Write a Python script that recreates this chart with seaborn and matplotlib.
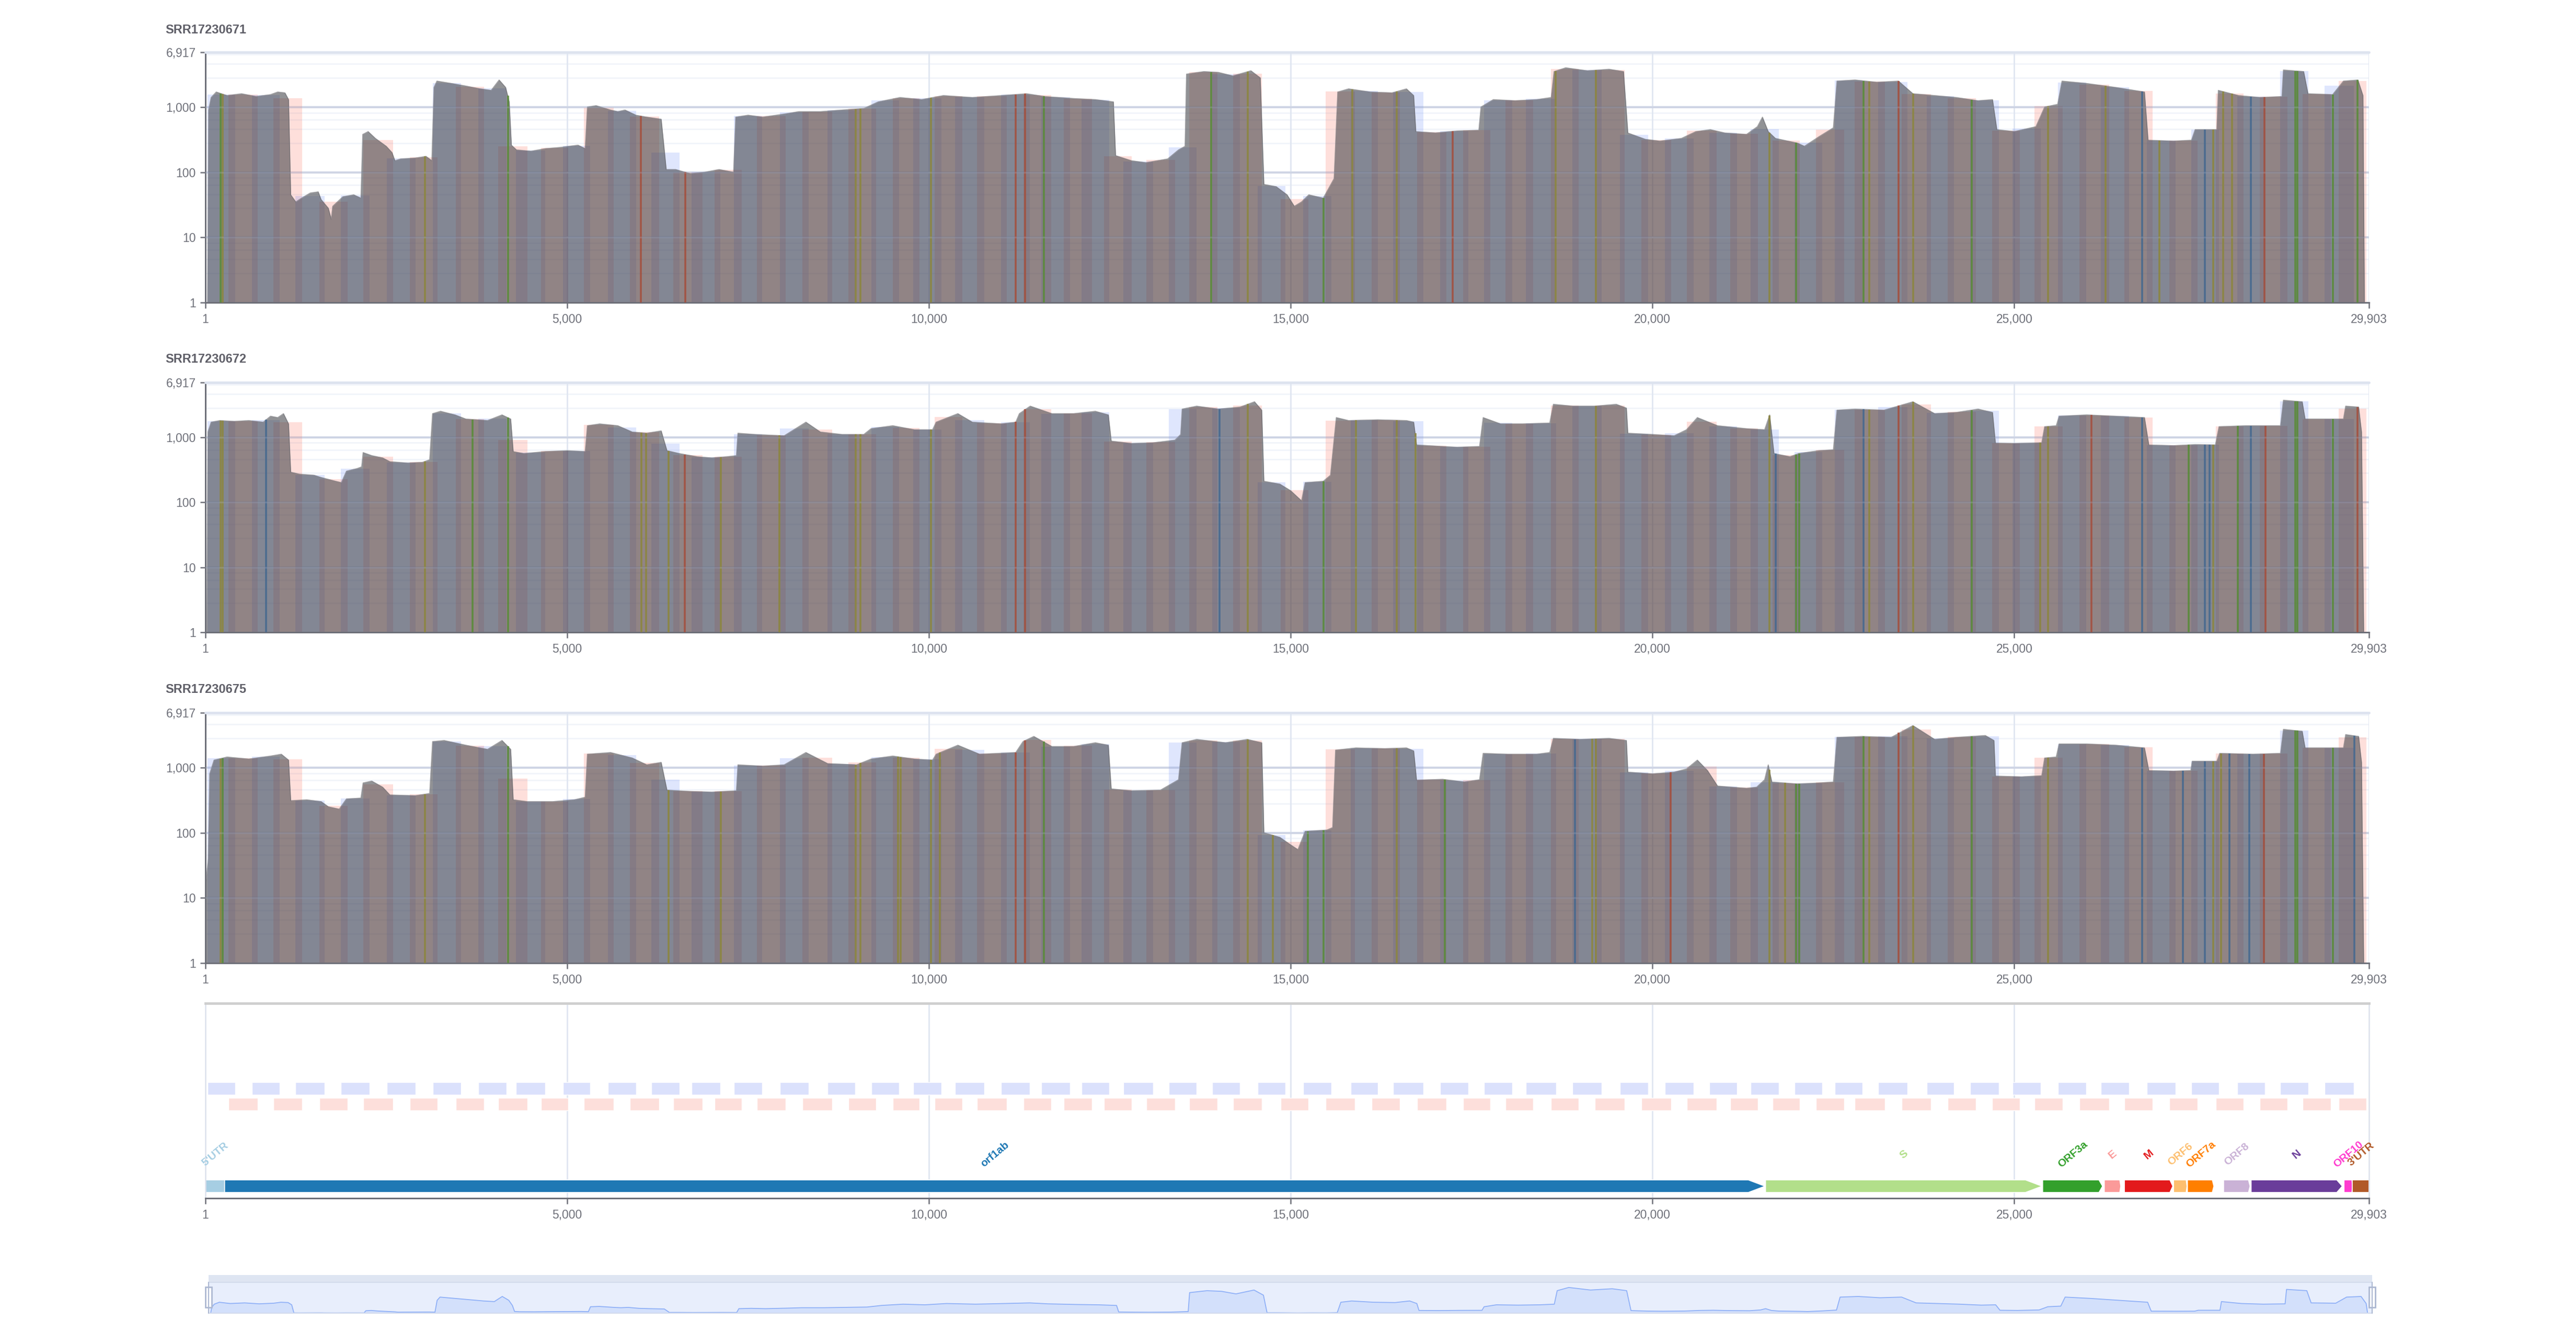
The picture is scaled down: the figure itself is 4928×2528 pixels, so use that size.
import numpy as np
import matplotlib
matplotlib.use('Agg')
import matplotlib.pyplot as plt
from matplotlib.patches import Rectangle, Polygon
from matplotlib.ticker import FixedLocator, NullLocator, FuncFormatter
import seaborn as sns

# genome / samples
genome_len = 29903
samples = ['SRR17230671', 'SRR17230672', 'SRR17230675']

# coverage breakpoints (position, depth)
cov_pos_1 = [1, 30, 45, 80, 150, 300, 500, 700, 900, 1000, 1100, 1150, 1180, 1250, 1330, 1450, 1560, 1600, 1700, 1740,
             1760, 1900, 2050, 2150, 2175, 2250, 2350, 2500, 2580, 2620, 2700, 2900, 3050, 3130, 3160, 3200, 3400, 3600,
             3800, 3950, 4060, 4150, 4200, 4230, 4300, 4500, 4700, 4900, 5150, 5250, 5280, 5400, 5600, 5700, 5800, 5950,
             6100, 6300, 6370, 6500, 6700, 6900, 7100, 7300, 7330, 7500, 7700, 8000, 8200, 8500, 8800, 9100, 9300, 9600,
             9900, 10200, 10600, 11000, 11350, 11600, 12000, 12300, 12550, 12580, 12800, 13000, 13300, 13450, 13540,
             13560, 13800, 14000, 14200, 14450, 14580, 14630, 14800, 14950, 15050, 15150, 15250, 15450, 15600, 15650,
             15800, 16100, 16400, 16600, 16700, 16730, 17000, 17300, 17600, 17630, 17800, 18100, 18400, 18600, 18640,
             18800, 19100, 19400, 19600, 19660, 19900, 20100, 20400, 20600, 20800, 21000, 21300, 21450, 21520, 21600,
             21700, 22000, 22100, 22300, 22500, 22550, 22800, 23100, 23400, 23600, 23900, 24200, 24500, 24700, 24760,
             25000, 25300, 25420, 25600, 25660, 26000, 26400, 26800, 26850, 27200, 27450, 27500, 27800, 27820, 28100,
             28400, 28700, 28720, 29000, 29060, 29400, 29550, 29750, 29820, 29840, 29903]
cov_depth_1 = [1, 1, 900, 1400, 1700, 1500, 1600, 1450, 1550, 1700, 1650, 1300, 45, 35, 40, 48, 50, 38, 28, 19,
               30, 42, 45, 40, 380, 420, 330, 250, 200, 150, 160, 165, 175, 150, 2000, 2500, 2300, 2100,
               1900, 1800, 2600, 2000, 1200, 260, 220, 210, 230, 240, 260, 230, 1000, 1050, 900, 850, 900, 750,
               700, 650, 110, 110, 95, 100, 110, 100, 700, 750, 700, 780, 850, 850, 900, 950, 1200, 1400,
               1300, 1500, 1400, 1500, 1600, 1450, 1350, 1300, 1200, 180, 150, 140, 160, 220, 250,
               3200, 3500, 3400, 3000, 3600, 2800, 65, 60, 45, 30, 35, 45, 40, 80, 1700,
               1900, 1700, 1650, 1900, 1500, 420, 400, 430, 440, 1000, 1300, 1250, 1300, 1400, 3500,
               4000, 3600, 3800, 3500, 400, 320, 300, 330, 420, 450, 400, 380, 500, 700, 420,
               330, 280, 250, 350, 480, 2500, 2600, 2400, 2500, 1600, 1500, 1400, 1250, 1300, 450,
               420, 500, 1000, 1100, 2500, 2300, 2000, 1700, 310, 300, 310, 450, 450, 1800, 1500,
               1400, 1450, 3700, 3500, 1600, 1550, 2500, 2600, 1500, 1, 1]

cov_pos_2 = [1, 20, 35, 80, 200, 400, 600, 800, 900, 1000, 1080, 1150, 1180, 1300, 1500, 1600, 1800, 1880, 1950, 2100,
             2160, 2180, 2300, 2450, 2550, 2800, 3000, 3100, 3140, 3250, 3450, 3600, 3900, 4100, 4220, 4255, 4400, 4700,
             5000, 5250, 5280, 5450, 5700, 5900, 6100, 6300, 6380, 6550, 6800, 7000, 7200, 7340, 7360, 7600, 8000, 8300,
             8500, 8800, 9100, 9200, 9500, 9800, 10050, 10100, 10400, 10600, 11000, 11200, 11250, 11400, 11700, 12000,
             12300, 12480, 12520, 12800, 13100, 13400, 13480, 13500, 13700, 14000, 14300, 14500, 14600, 14630, 14850,
             15000, 15150, 15200, 15450, 15550, 15630, 15800, 16200, 16600, 16700, 16740, 17000, 17300, 17610, 17660,
             17900, 18200, 18580, 18630, 18900, 19200, 19500, 19640, 19660, 20000, 20300, 20470, 20620, 20900, 21300,
             21550, 21620, 21680, 21900, 22020, 22300, 22500, 22550, 22800, 23200, 23600, 23900, 24200, 24500, 24700,
             24740, 25000, 25380, 25420, 25580, 25620, 26000, 26400, 26800, 26860, 27200, 27500, 27780, 27830, 28200,
             28680, 28720, 28980, 29020, 29550, 29580, 29760, 29800, 29830, 29903]
cov_depth_2 = [1, 1, 1200, 1700, 1800, 1750, 1800, 1700, 2100, 2000, 2300, 1600, 290, 270, 260, 240, 210, 200, 300, 330,
               350, 580, 520, 480, 420, 400, 410, 450, 2300, 2500, 2200, 1900, 1800, 2200, 1900, 600, 560, 600,
               620, 600, 1500, 1600, 1500, 1200, 1150, 1250, 620, 560, 500, 480, 500, 520, 1150, 1100, 1050, 1700,
               1200, 1100, 1100, 1350, 1500, 1300, 1300, 1700, 2300, 1700, 1600, 1700, 2300, 3000, 2300, 2300,
               2500, 2200, 870, 800, 820, 900, 1100, 2700, 3000, 2700, 2900, 3500, 2600, 210, 190,
               150, 105, 200, 210, 260, 2000, 1800, 1850, 1800, 1700, 760, 730, 700, 720, 2000,
               1600, 1600, 1650, 3200, 3000, 3000, 3200, 2800, 1150, 1100, 1050, 1300, 2000, 1500, 1350,
               1300, 2200, 560, 500, 560, 620, 640, 2600, 2700, 2600, 3500, 2300, 2400, 2700, 2400,
               810, 800, 820, 1450, 1500, 2100, 2200, 2100, 2000, 760, 740, 770, 760, 1450, 1500,
               1500, 3700, 3500, 1900, 1900, 3000, 2900, 1200, 1, 1]

cov_pos_3 = [1, 10, 40, 60, 120, 300, 600, 900, 1050, 1150, 1180, 1400, 1600, 1700, 1850, 1950, 2150, 2180, 2300, 2450,
             2550, 2900, 3100, 3140, 3300, 3600, 3900, 4100, 4220, 4255, 4450, 4800, 5100, 5250, 5280, 5600, 5900, 6100,
             6300, 6380, 6700, 7000, 7340, 7360, 7700, 8000, 8300, 8600, 9000, 9200, 9500, 9800, 10050, 10100, 10400,
             10700, 11200, 11300, 11450, 11700, 12000, 12300, 12480, 12520, 12800, 13200, 13450, 13500, 13700, 14100,
             14400, 14600, 14630, 14850, 15000, 15100, 15200, 15500, 15580, 15620, 15900, 16300, 16600, 16700, 16740,
             17100, 17400, 17610, 17660, 18000, 18400, 18580, 18630, 19000, 19400, 19640, 19660, 20000, 20300, 20470,
             20620, 20760, 20900, 21300, 21440, 21550, 21600, 21650, 22000, 22300, 22500, 22550, 22900, 23300, 23600,
             23900, 24200, 24600, 24720, 24740, 25100, 25380, 25420, 25580, 25620, 26000, 26400, 26800, 26860, 27200,
             27440, 27460, 27800, 27840, 28300, 28680, 28720, 28980, 29020, 29550, 29580, 29760, 29800, 29830, 29903]
cov_depth_3 = [1, 18, 40, 800, 1300, 1450, 1350, 1500, 1600, 1300, 310, 320, 300, 250, 230, 330, 340, 580, 620, 500,
               380, 370, 400, 2500, 2600, 2200, 1900, 2600, 1900, 320, 300, 300, 320, 350, 1600, 1700, 1400, 1100,
               1200, 450, 430, 420, 440, 1100, 1050, 1100, 1700, 1150, 1100, 1350, 1500, 1350, 1300, 1600, 2200,
               1600, 1700, 2500, 3000, 2100, 2100, 2400, 2200, 470, 440, 450, 650, 2400, 2700, 2400,
               2700, 2400, 100, 85, 65, 55, 105, 110, 120, 1850, 2000, 1950, 2000, 1800, 640,
               660, 600, 650, 1650, 1600, 1600, 1700, 2800, 2700, 2800, 2600, 850, 800, 850, 950,
               1300, 900, 520, 480, 500, 650, 1100, 600, 560, 580, 600, 2900, 3000, 2900, 4400,
               2700, 2900, 3100, 2600, 740, 720, 750, 1400, 1450, 2300, 2300, 2200, 2000, 900, 880,
               900, 1250, 1250, 1650, 1600, 1650, 3850, 3600, 2000, 2000, 3200, 3000, 1200, 1, 1]

# ARTIC V3 amplicons (odd = pool 1, even = pool 2)
amp_start = [30, 320, 642, 943, 1242, 1573, 1875, 2181, 2505, 2826, 3144, 3460, 3771, 4044, 4294, 4636, 4939, 5230,
             5563, 5867, 6167, 6466, 6718, 7035, 7305, 7626, 7943, 8249, 8595, 8888, 9204, 9502, 9784, 10077, 10362,
             10666, 10999, 11306, 11555, 11863, 12110, 12417, 12690, 13005, 13319, 13599, 13918, 14207, 14545, 14865,
             15171, 15481, 15827, 16118, 16416, 16748, 17065, 17381, 17674, 17966, 18253, 18596, 18896, 19204, 19548,
             19844, 20172, 20472, 20786, 21075, 21357, 21658, 21961, 22262, 22516, 22797, 23122, 23443, 23789, 24078,
             24391, 24696, 24978, 25279, 25601, 25902, 26197, 26520, 26835, 27141, 27446, 27784, 28081, 28394, 28677,
             28985, 29288, 29486]
amp_end = [410, 726, 1028, 1337, 1651, 1964, 2269, 2592, 2904, 3210, 3531, 3853, 4164, 4450, 4696, 5017, 5321, 5644,
           5957, 6272, 6550, 6873, 7117, 7415, 7694, 8019, 8341, 8661, 8983, 9271, 9585, 9867, 10171, 10459, 10763,
           11074, 11394, 11693, 11949, 12256, 12490, 12802, 13096, 13400, 13699, 13984, 14299, 14601, 14926, 15246,
           15560, 15886, 16209, 16510, 16833, 17152, 17452, 17761, 18062, 18348, 18672, 18979, 19297, 19616, 19939,
           20255, 20572, 20890, 21169, 21455, 21743, 22038, 22346, 22650, 22903, 23214, 23522, 23847, 24169, 24467,
           24789, 25076, 25369, 25673, 25994, 26315, 26590, 26913, 27227, 27535, 27831, 28172, 28464, 28779, 29063,
           29378, 29693, 29866]

# genes
gene_names = ["5'UTR", 'orf1ab', 'S', 'ORF3a', 'E', 'M', 'ORF6', 'ORF7a', 'ORF8', 'N', 'ORF10', "3'UTR"]
gene_start = [1, 266, 21563, 25393, 26245, 26523, 27202, 27394, 27894, 28274, 29558, 29675]
gene_end = [265, 21555, 25384, 26220, 26472, 27191, 27387, 27759, 28259, 29533, 29674, 29903]
gene_colors = ['#a6cee3', '#1f78b4', '#b2df8a', '#33a02c', '#fb9a99', '#e31a1c', '#fdbf6f', '#ff7f00',
               '#cab2d6', '#6a3d9a', '#ff3bcf', '#b15928']

# variant sites per sample, kind: o olive, g green, r red, b blue
var_pos_1 = [210, 241, 3037, 4181, 6017, 6630, 8986, 9053, 10029, 11201, 11332, 11590, 13900, 14408, 15451, 15853,
             16466, 17240, 18660, 19220, 21618, 21987, 22917, 22995, 23403, 23604, 24410, 25469, 26260, 26767, 27008,
             27638, 27752, 27888, 28011, 28270, 28461, 28881, 28916, 29402, 29742]
var_kind_1 = ['g', 'o', 'o', 'g', 'r', 'r', 'o', 'o', 'o', 'r', 'r', 'g', 'g', 'o', 'g', 'o',
              'o', 'r', 'o', 'o', 'o', 'g', 'g', 'o', 'r', 'o', 'g', 'o', 'o', 'b', 'o',
              'b', 'o', 'o', 'o', 'b', 'r', 'g', 'g', 'g', 'g']
var_pos_2 = [210, 241, 841, 3037, 3694, 4181, 6025, 6093, 6402, 6624, 7124, 7930, 8986, 9053, 10029, 11201, 11332,
             14013, 14408, 15451, 15900, 16466, 16723, 19220, 21618, 21700, 21987, 22029, 22917, 22995, 23403, 23604,
             24410, 25358, 25469, 26064, 26767, 27410, 27638, 27700, 27752, 28087, 28270, 28474, 28881, 28916, 29402,
             29742]
var_kind_2 = ['o', 'o', 'b', 'o', 'g', 'g', 'o', 'o', 'o', 'r', 'o', 'o', 'o', 'o', 'o', 'r', 'r',
              'b', 'o', 'g', 'o', 'o', 'o', 'o', 'o', 'b', 'g', 'g', 'b', 'o', 'r', 'o',
              'g', 'o', 'o', 'r', 'b', 'g', 'b', 'b', 'o', 'g', 'b', 'r', 'g', 'g', 'g',
              'r']
var_pos_3 = [210, 241, 3037, 4181, 6402, 7124, 8986, 9053, 9575, 9610, 10029, 10150, 11201, 11332, 11590, 14408,
             14750, 15240, 15451, 16466, 17130, 18930, 19170, 19220, 20250, 21618, 21830, 21987, 22029, 22917, 22995,
             23403, 23604, 24410, 25469, 26767, 27330, 27638, 27752, 27860, 27975, 28250, 28450, 28881, 28916, 29402,
             29702]
var_kind_3 = ['o', 'g', 'o', 'g', 'o', 'o', 'o', 'o', 'o', 'o', 'o', 'o', 'r', 'r', 'g', 'o',
              'o', 'g', 'g', 'o', 'g', 'b', 'o', 'o', 'r', 'o', 'o', 'g', 'g', 'g', 'o',
              'r', 'o', 'g', 'o', 'b', 'b', 'b', 'o', 'o', 'b', 'b', 'r', 'g', 'g', 'g',
              'b']

x_ticks = [1, 5000, 10000, 15000, 20000, 25000, 29903]
y_ticks = [1, 10, 100, 1000, 6917]

tracks = [(cov_pos_1, cov_depth_1, var_pos_1, var_kind_1),
          (cov_pos_2, cov_depth_2, var_pos_2, var_kind_2),
          (cov_pos_3, cov_depth_3, var_pos_3, var_kind_3)]

var_colors = {'o': '#8c8640', 'g': '#5a8b3a', 'r': '#a3503f', 'b': '#46698f'}
axis_col = '#6e7079'
grid_col = '#e0e6f1'

sns.set_theme(style='white')
plt.rcParams['font.family'] = ['Liberation Sans', 'DejaVu Sans']

W, H = 4928, 2528
fig = plt.figure(figsize=(W / 100, H / 100), dpi=100)


def px_axes(left, top, right, bottom):
    return fig.add_axes([left / W, 1 - bottom / H, (right - left) / W, (bottom - top) / H])


fmt = FuncFormatter(lambda v, p: f'{int(round(v)):,}')


def style_x(ax):
    ax.set_xlim(1, genome_len)
    ax.xaxis.set_major_locator(FixedLocator(x_ticks))
    ax.xaxis.set_minor_locator(NullLocator())
    ax.xaxis.set_major_formatter(fmt)
    ax.tick_params(axis='x', length=8, width=1.8, color=axis_col, labelsize=16.5,
                   labelcolor=axis_col, pad=7, bottom=True)
    ax.spines['bottom'].set_color(axis_col)
    ax.spines['bottom'].set_linewidth(2.2)


track_box = [(100, 579), (732, 1210), (1364, 1843)]
title_y = [57, 688, 1320]
minor_vals = [m * b for b in [1, 10, 100, 1000] for m in [2.8, 4.6, 6.4, 8.2] if m * b < 6917]
grid_pos = np.arange(1, genome_len + 1)

for i, (cp, cd, vp, vk) in enumerate(tracks):
    top, bot = track_box[i]
    ax = px_axes(393, top, 4532, bot)
    ax.set_yscale('log')
    ax.set_ylim(1, 6917)
    style_x(ax)
    ax.yaxis.set_major_locator(FixedLocator(y_ticks))
    ax.yaxis.set_minor_locator(NullLocator())
    ax.yaxis.set_major_formatter(fmt)
    ax.tick_params(axis='y', length=7, width=1.8, color=axis_col, labelsize=16.5,
                   labelcolor=axis_col, pad=6, left=True)
    for s in ['top', 'right']:
        ax.spines[s].set_visible(False)
    ax.spines['left'].set_color(axis_col)
    ax.spines['left'].set_linewidth(2.2)

    for v in minor_vals:
        ax.axhline(v, color='#f1f4fa', lw=2, zorder=0)
    for x in x_ticks[1:]:
        ax.axvline(x, color=grid_col, lw=2, zorder=0)
    for v in [10, 100, 1000]:
        ax.axhline(v, color='#d6dcea', lw=3, zorder=0.5)

    # amplicon depth boxes (median depth over the amplicon)
    dep = np.interp(grid_pos, cp, cd)
    for j, (s, e) in enumerate(zip(amp_start, amp_end)):
        med = np.median(dep[s - 1:e])
        col = (0.39, 0.51, 0.96, 0.2) if j % 2 == 0 else (0.98, 0.39, 0.31, 0.2)
        ax.add_patch(Rectangle((s, 1), e - s, max(med - 1, 0), facecolor=col, edgecolor='none', zorder=1))

    ax.fill_between(cp, 1, cd, color=(60 / 255, 61 / 255, 66 / 255), alpha=0.56, lw=0, zorder=2)
    sns.lineplot(x=cp, y=cd, ax=ax, color='#66666b', lw=1.2, alpha=0.6, zorder=2.5,
                 estimator=None, sort=False, errorbar=None)

    for p, k in zip(vp, vk):
        d = np.interp(p, cp, cd)
        ax.vlines(p, 1, d, color=var_colors[k], lw=2.6, alpha=0.9, zorder=3)

    for v in [10, 100, 1000]:
        ax.axhline(v, color='#b8c0d4', lw=2.5, alpha=0.25, zorder=4)
    ax.axhline(6917, color='#dde3ef', lw=3.5, zorder=4, clip_on=False)
    ax.set_xlabel('')
    ax.set_ylabel('')

    fig.text(316 / W, 1 - title_y[i] / H, samples[i], fontsize=17, fontweight='bold',
             color='#5f5f68', ha='left', va='center')

# gene / amplicon panel
gax = px_axes(393, 1920, 4532, 2293)
gax.set_ylim(0, 1)
style_x(gax)
gax.set_yticks([])
gax.spines['top'].set_color('#cfcfcf')
gax.spines['top'].set_linewidth(3.5)
for s in ['left', 'right']:
    gax.spines[s].set_color('#dce1ec')
    gax.spines[s].set_linewidth(1.8)
for x in x_ticks[1:-1]:
    gax.axvline(x, color=grid_col, lw=2, zorder=0)

for j, (s, e) in enumerate(zip(amp_start, amp_end)):
    if j % 2 == 0:
        gax.add_patch(Rectangle((s, 0.531), e - s, 0.064, facecolor='#dbe1fc', edgecolor='white', lw=1, zorder=1))
    else:
        gax.add_patch(Rectangle((s, 0.450), e - s, 0.064, facecolor='#fddfdb', edgecolor='white', lw=1, zorder=1))

y0, y1 = 0.0295, 0.0938
for name, s, e, c in zip(gene_names, gene_start, gene_end, gene_colors):
    tip = 0 if 'UTR' in name else min(230, 0.06 * (e - s))
    ym = (y0 + y1) / 2
    poly = [(s, y0), (e - tip, y0), (e, ym), (e - tip, y1), (s, y1)]
    gax.add_patch(Polygon(poly, closed=True, facecolor=c, edgecolor='white', lw=1.2, zorder=2))
    gax.text((s + e) / 2, 0.225, name, rotation=40, ha='center', va='center', color=c,
             fontsize=15, fontweight='bold', zorder=3)

# data zoom slider
band = px_axes(399, 2440, 4538, 2454)
band.set_facecolor('#dee5f2')
band.set_xticks([])
band.set_yticks([])
for s in band.spines.values():
    s.set_visible(False)

sax = px_axes(399, 2454, 4538, 2513)
sax.set_facecolor('#e8eefc')
sax.fill_between(cov_pos_1, 0, cov_depth_1, color='#d3e0fb', lw=0)
sns.lineplot(x=cov_pos_1, y=cov_depth_1, ax=sax, color='#8fb0f7', lw=1.3,
             estimator=None, sort=False, errorbar=None)
sax.set_xlim(1, genome_len)
sax.set_ylim(0, max(cov_depth_1) * 1.2)
sax.set_xticks([])
sax.set_yticks([])
sax.set_xlabel('')
sax.set_ylabel('')
for s in sax.spines.values():
    s.set_color('#d3dbec')
    s.set_linewidth(1.5)

for hx in [399, 4538]:
    fig.add_artist(plt.Line2D([hx / W, hx / W], [1 - 2513 / H, 1 - 2454 / H], color='#acb8d1', lw=1.5))
    fig.add_artist(Rectangle(((hx - 6) / W, 1 - 2502 / H), 12 / W, 39 / H, facecolor='white',
                             edgecolor='#acb8d1', lw=2, transform=fig.transFigure))

fig.savefig('out.png', dpi=100, facecolor='white')
